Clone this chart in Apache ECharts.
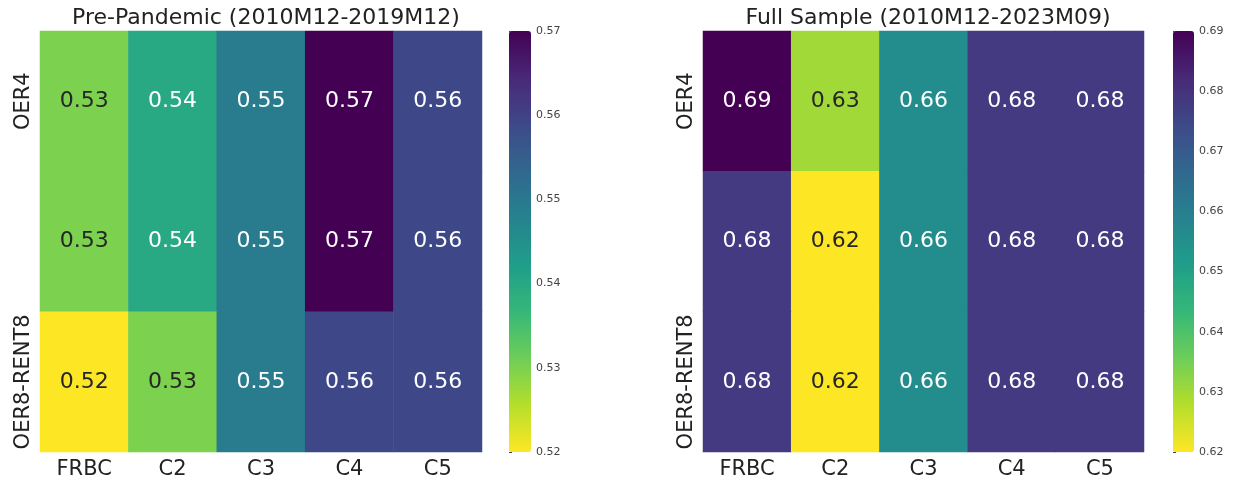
<!DOCTYPE html>
<html>
<head>
<meta charset="utf-8">
<script src="https://cdn.jsdelivr.net/npm/echarts@6/dist/echarts.min.js"></script>
<style>
  html, body { margin: 0; padding: 0; background: #fff; }
  #main { width: 1233px; height: 482px; }
</style>
</head>
<body>
<div id="main"></div>
<script>
// columns / rows of both heatmaps
const columns = ['FRBC', 'C2', 'C3', 'C4', 'C5'];
const rows = ['OER4', 'OER8', 'OER8-RENT8'];

// values (row by row)
const prePandemic = [
    [0.530, 0.540, 0.549, 0.570, 0.559],
    [0.530, 0.540, 0.549, 0.570, 0.559],
    [0.520, 0.530, 0.549, 0.559, 0.559]
];
const fullSample = [
    [0.690, 0.630, 0.656, 0.678, 0.678],
    [0.678, 0.620, 0.656, 0.678, 0.678],
    [0.678, 0.620, 0.656, 0.678, 0.678]
];

// colourbar ranges
const preRange = [0.52, 0.57];
const fullRange = [0.62, 0.69];

const titles = ['Pre-Pandemic (2010M12-2019M12)', 'Full Sample (2010M12-2023M09)'];

// viridis, reversed (low = yellow, high = purple)
const viridisR = ['#fde725', '#b5de2b', '#6ece58', '#35b779', '#1f9e89',
    '#26828e', '#31688e', '#3e4989', '#482878', '#440154'];

function toData(table, range) {
    const out = [];
    table.forEach((row, r) => {
        row.forEach((v, c) => {
            const t = (v - range[0]) / (range[1] - range[0]);
            out.push({
                value: [c, r, v],
                label: { color: t < 0.3 ? '#262626' : '#ffffff' }
            });
        });
    });
    return out;
}

const chart = echarts.init(document.getElementById('main'));

const grids = [
    { left: 40, top: 31, width: 442, height: 421 },
    { left: 703, top: 31, width: 441, height: 421 },
    // colourbar axes
    { left: 509, top: 31, width: 22, height: 421 },
    { left: 1173, top: 31, width: 21, height: 421 }
];

const catX = (gi) => ({
    type: 'category', gridIndex: gi, data: columns,
    axisLine: { show: false },
    axisTick: { alignWithLabel: true, length: 4, lineStyle: { color: '#333' } },
    axisLabel: { fontSize: 21, color: '#222', margin: 7, fontFamily: 'DejaVu Sans' },
    splitArea: { show: false }
});
const catY = (gi) => ({
    type: 'category', gridIndex: gi, data: rows, inverse: true,
    axisLine: { show: false },
    axisTick: { alignWithLabel: true, length: 4, lineStyle: { color: '#333' } },
    axisLabel: { fontSize: 21, color: '#222', rotate: 90, margin: 6, fontFamily: 'DejaVu Sans' }
});
const barY = (gi, range) => ({
    type: 'value', gridIndex: gi, position: 'right',
    min: range[0], max: range[1], interval: 0.01,
    axisLine: { show: false },
    splitLine: { show: false },
    axisTick: { show: true, length: 3, lineStyle: { color: '#444' } },
    axisLabel: { fontSize: 11, color: '#444', margin: 5, fontFamily: 'DejaVu Sans',
        formatter: (v) => v.toFixed(2) }
});
const hiddenX = (gi) => ({ type: 'value', gridIndex: gi, show: false, min: 0, max: 1 });

const labelStyle = { show: true, fontSize: 22, fontFamily: 'DejaVu Sans', formatter: (p) => p.value[2].toFixed(2) };

chart.setOption({
    animation: false,
    textStyle: { fontFamily: 'DejaVu Sans' },
    title: [
        { text: titles[0], left: 261, top: 2, textAlign: 'center',
          textStyle: { fontSize: 22, fontWeight: 'normal', color: '#222' } },
        { text: titles[1], left: 923, top: 2, textAlign: 'center',
          textStyle: { fontSize: 22, fontWeight: 'normal', color: '#222' } }
    ],
    grid: grids,
    xAxis: [catX(0), catX(1), hiddenX(2), hiddenX(3)],
    yAxis: [catY(0), catY(1), barY(2, preRange), barY(3, fullRange)],
    visualMap: [
        { type: 'continuous', seriesIndex: 0, min: preRange[0], max: preRange[1],
          calculable: false, orient: 'vertical', left: 509, top: 31, padding: 0,
          itemWidth: 22, itemHeight: 421, inRange: { color: viridisR } },
        { type: 'continuous', seriesIndex: 1, min: fullRange[0], max: fullRange[1],
          calculable: false, orient: 'vertical', left: 1173, top: 31, padding: 0,
          itemWidth: 21, itemHeight: 421, inRange: { color: viridisR } }
    ],
    series: [
        { type: 'heatmap', xAxisIndex: 0, yAxisIndex: 0,
          data: toData(prePandemic, preRange), label: labelStyle,
          emphasis: { disabled: true } },
        { type: 'heatmap', xAxisIndex: 1, yAxisIndex: 1,
          data: toData(fullSample, fullRange), label: labelStyle,
          emphasis: { disabled: true } }
    ]
});
</script>
</body>
</html>
